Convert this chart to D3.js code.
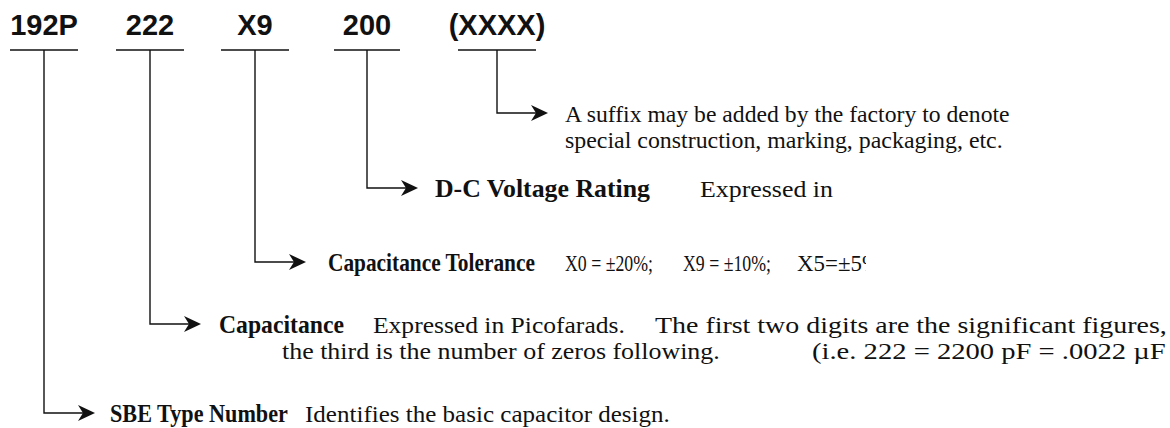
<!DOCTYPE html>
<html>
<head>
<meta charset="utf-8">
<script src="https://cdn.jsdelivr.net/npm/d3@7"></script>
<style>
  body { margin: 0; background: #fff; }
  svg { display: block; }
</style>
</head>
<body>
<svg id="canvas" width="1170" height="428"></svg>
<script>
// part number fields, left to right
var codes = ["192P", "222", "X9", "200", "(XXXX)"];
// bold caption for each field ("" = none)
var labels = ["SBE Type Number", "Capacitance", "Capacitance Tolerance", "D-C Voltage Rating", ""];
// explanation text, one list of lines per field, each line split in pieces
var notes = [
  [["Identifies the basic capacitor design."]],
  [["Expressed in Picofarads.", "The first two digits are the significant figures,"],
   ["the third is the number of zeros following.", "(i.e. 222 = 2200 pF = .0022 µF"]],
  [["X0 = ±20%;", "X9 = ±10%;", "X5=±5%"]],
  [["Expressed in"]],
  [["A suffix may be added by the factory to denote"],
   ["special construction, marking, packaging, etc."]]
];

function initialize() {
  var canvas = d3.select("#canvas");
  var ink = "#111";
  var serif = "'Liberation Serif', 'Times New Roman', serif";

  // where each field sits across the page and which row its arrow ends on
  var x = d3.scaleOrdinal().domain(codes).range([44, 150, 255, 367, 497]);
  var rowY = d3.scaleOrdinal().domain(codes).range([413, 324, 262, 188, 113]);
  var halfBar = d3.scaleOrdinal().domain(codes).range([34, 34, 34, 33, 39]);

  // [x, width] of the label, then of every note piece (the scan is squeezed)
  var labelBox = [[110, 178], [219, 125], [328, 207], [435, 215], null];
  var pieceBox = [
    [[[305, 365]]],
    [[[373, 252], [655, 512]], [[282, 438], [812, 354]]],
    [[[565, 88], [683, 88], [797, 84]]],
    [[[700, 133]]],
    [[[565, 445]], [[565, 438]]]
  ];
  var clipRight = [null, null, 866, null, null];

  var codeY = 35, barY = 50, arrowLen = 51, lineGap = 26;

  var defs = canvas.append("defs");
  clipRight.forEach(function(r, i) {
    if (!r) return;
    defs.append("clipPath").attr("id", "cut_" + i)
      .append("rect").attr("x", 0).attr("y", 0).attr("width", r).attr("height", 428);
  });

  // put a text at (bx, by) and stretch or squeeze it sideways to width w
  function fitText(parent, str, bx, by, w, bold, size) {
    var t = parent.append("text")
      .attr("x", 0).attr("y", 0)
      .style("font-family", serif)
      .style("font-weight", bold ? "bold" : "normal")
      .style("font-size", size + "px")
      .style("fill", ink)
      .text(str);
    var natural = t.node().getComputedTextLength();
    t.attr("transform", "translate(" + bx + "," + by + ") scale(" + (w / natural) + ",1)");
    return t;
  }

  codes.forEach(function(c, i) {
    var cx = x(c), ay = rowY(c), tip = cx + arrowLen;

    // field code
    canvas.append("text")
      .attr("x", cx).attr("y", codeY)
      .attr("text-anchor", "middle")
      .style("font-family", "'Liberation Sans', Arial, sans-serif")
      .style("font-weight", "bold")
      .style("font-size", "29px")
      .style("fill", ink)
      .text(c);

    // bar under the code
    canvas.append("line")
      .attr("x1", cx - halfBar(c)).attr("x2", cx + halfBar(c))
      .attr("y1", barY).attr("y2", barY)
      .style("stroke", ink).style("stroke-width", 1.6);

    // leader: down, then right
    canvas.append("path")
      .attr("d", "M" + cx + " " + barY + " V" + ay + " H" + (tip - 6))
      .style("fill", "none").style("stroke", ink).style("stroke-width", 1.4);

    // arrow head
    canvas.append("path")
      .attr("d", "M" + tip + " " + ay + " l-17 -8 l5 8 l-5 8 z")
      .style("fill", ink);

    var g = canvas.append("g");
    if (clipRight[i]) g.attr("clip-path", "url(#cut_" + i + ")");

    var ty = ay + 9;
    if (labels[i]) {
      fitText(g, labels[i], labelBox[i][0], ty, labelBox[i][1], true, 25);
    }

    notes[i].forEach(function(line, li) {
      line.forEach(function(piece, pi) {
        var box = pieceBox[i][li][pi];
        fitText(g, piece, box[0], ty + li * lineGap, box[1], false, 23);
      });
    });
  });
}

initialize();
</script>
</body>
</html>
